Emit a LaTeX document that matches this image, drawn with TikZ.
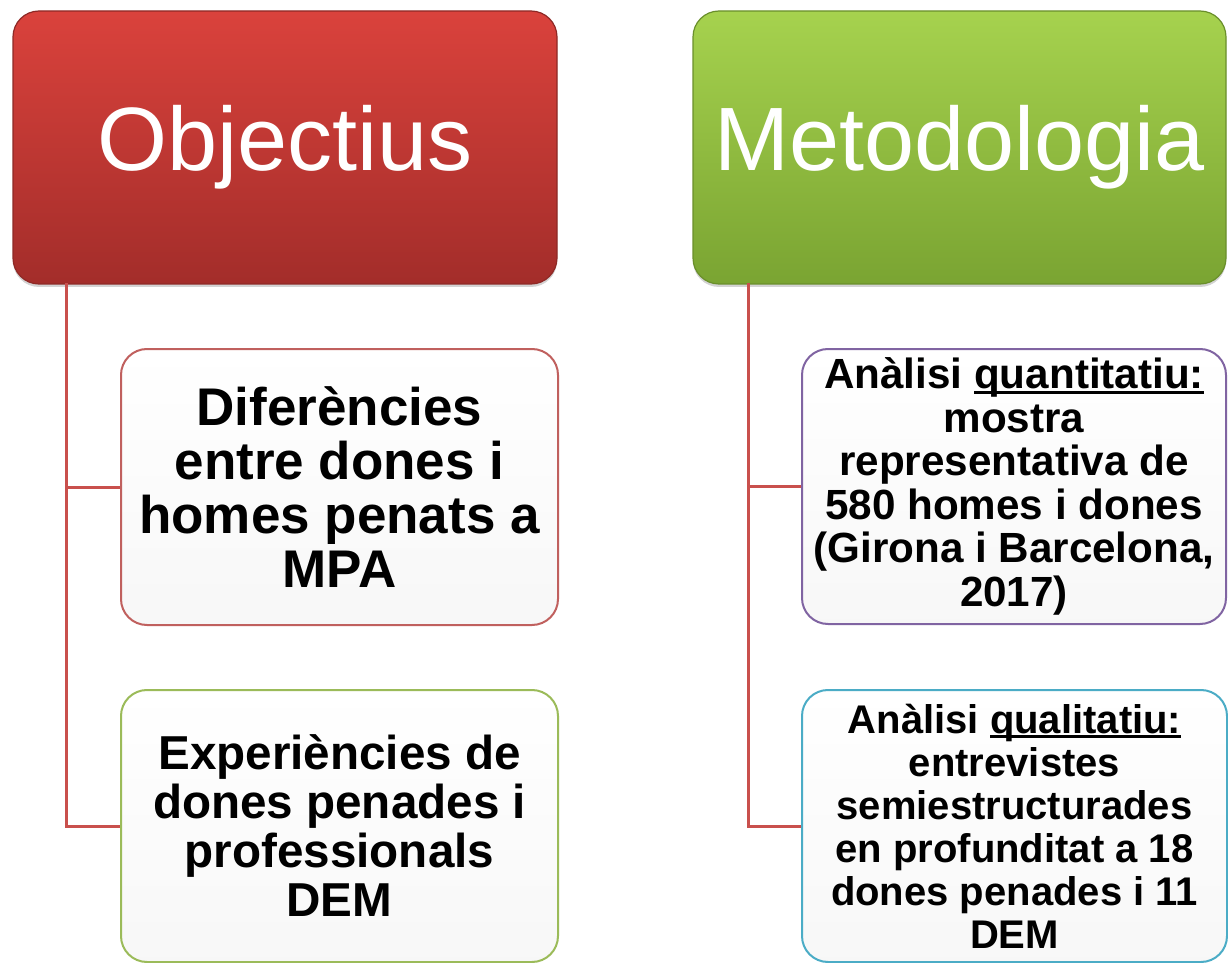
\documentclass[tikz,border=0pt]{standalone}
\usepackage{fontspec}
\setmainfont{Liberation Sans}
\usetikzlibrary{shadows}
\definecolor{redtop}{HTML}{DA423C}
\definecolor{redbot}{HTML}{A32D2A}
\definecolor{redline}{HTML}{8E2926}
\definecolor{greentop}{HTML}{A6D24E}
\definecolor{greenbot}{HTML}{7AA432}
\definecolor{greenline}{HTML}{6A8F2B}
\definecolor{conncol}{HTML}{C9504D}
\definecolor{bred}{HTML}{C0605E}
\definecolor{bgreen}{HTML}{9BBB59}
\definecolor{bpurple}{HTML}{8064A2}
\definecolor{bblue}{HTML}{4BACC6}
\newcommand\myul[1]{\setbox0\hbox{#1}\rlap{\rule[-0.13em]{\wd0}{0.075em}}\box0}
\tikzset{
  header/.style={rounded corners=13pt, line width=0.6pt, text=white,
    font=\fontsize{45}{50}\selectfont, inner sep=0pt,
    drop shadow={opacity=0.35, shadow xshift=0pt, shadow yshift=-1.5pt}},
  childbox/.style={rounded corners=13pt, line width=1pt, top color=white,
    bottom color=white!97!black, align=center, inner sep=0pt,
    font=\bfseries},
  conn/.style={draw=conncol, line width=1.5pt},
}
\begin{document}
\begin{tikzpicture}[x=0.5pt,y=-0.5pt]
\useasboundingbox (0,0) rectangle (1228,963);
% headers
\node[header, draw=redline, top color=redtop, bottom color=redbot,
  minimum width=272pt, minimum height=136.5pt] (hl) at (285,147.5) {Objectius};
\node[header, draw=greenline, top color=greentop, bottom color=greenbot,
  minimum width=266.5pt, minimum height=136.5pt] (hr) at (959.5,147.5) {Metodologia};
% trunk tops
\coordinate (tl) at (66,283);
\coordinate (tr) at (748,283);
% children
\node[childbox, draw=bred, minimum width=218.5pt, minimum height=138pt,
  font=\bfseries\fontsize{26.5}{27}\selectfont] (l1) at (339.5,487)
  {Diferències\\entre dones i\\homes penats a\\MPA};
\node[childbox, draw=bgreen, minimum width=218.5pt, minimum height=136pt,
  font=\bfseries\fontsize{23.8}{24.5}\selectfont] (l2) at (339.5,826)
  {Experiències de\\dones penades i\\professionals\\DEM};
\node[childbox, draw=bpurple, minimum width=212pt, minimum height=137.5pt,
  font=\bfseries\fontsize{21.1}{21.75}\selectfont] (r1) at (1014,486.5)
  {Anàlisi \myul{quantitatiu:}\\mostra\\representativa de\\580 homes i dones\\(Girona i Barcelona,\\2017)};
\node[childbox, draw=bblue, minimum width=212.5pt, minimum height=136pt,
  font=\bfseries\fontsize{20}{21.5}\selectfont] (r2) at (1014.5,826)
  {Anàlisi \myul{qualitatiu:}\\entrevistes\\semiestructurades\\en profunditat a 18\\dones penades i 11\\DEM};
\draw[conn] (tl) |- (l1.west);
\draw[conn] (tl) |- (l2.west);
\draw[conn] (tr) |- (r1.west);
\draw[conn] (tr) |- (r2.west);
\end{tikzpicture}
\end{document}
